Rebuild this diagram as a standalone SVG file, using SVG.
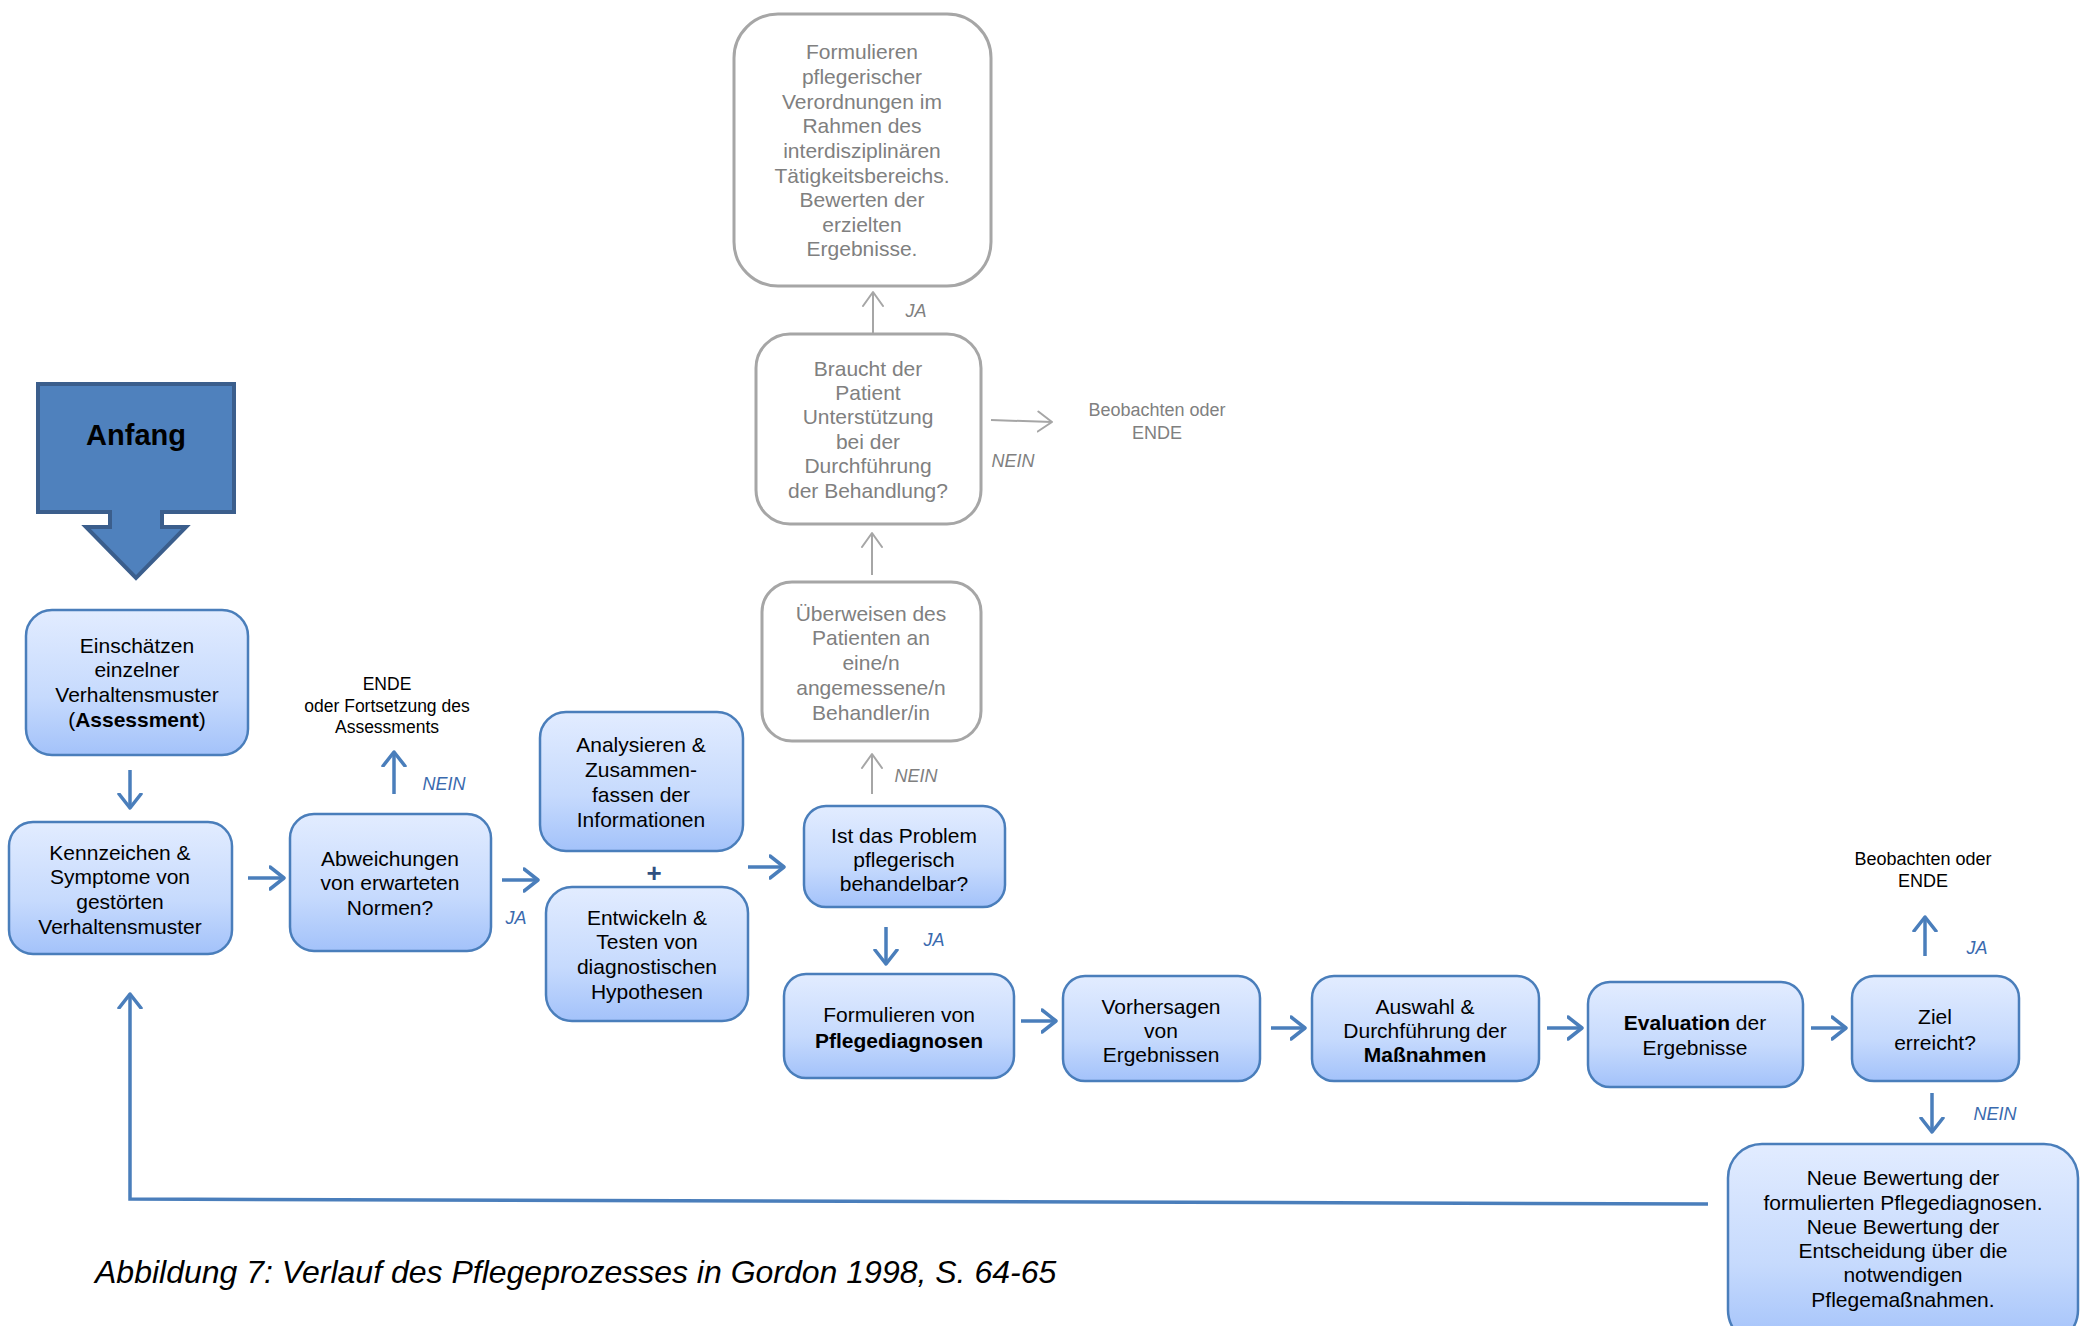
<svg xmlns="http://www.w3.org/2000/svg" width="2080" height="1326" viewBox="0 0 2080 1326">
<defs>
<linearGradient id="g" x1="0" y1="0" x2="0" y2="1">
<stop offset="0" stop-color="#e2ecff"/>
<stop offset="0.6" stop-color="#c6dafd"/>
<stop offset="1" stop-color="#a3c2fa"/>
</linearGradient>
<marker id="ab" markerUnits="userSpaceOnUse" markerWidth="30" markerHeight="30" refX="15" refY="12" orient="auto" viewBox="0 0 30 24">
<path d="M1,1 L15,12 L1,23" fill="none" stroke="#4a7ebb" stroke-width="3.5" stroke-linecap="round" stroke-linejoin="round"/>
</marker>
<marker id="ag" markerUnits="userSpaceOnUse" markerWidth="30" markerHeight="30" refX="15" refY="12" orient="auto" viewBox="0 0 30 24">
<path d="M1,2 L15,12 L1,22" fill="none" stroke="#a6a6a6" stroke-width="2" stroke-linecap="round" stroke-linejoin="round"/>
</marker>
</defs>
<style>
text{font-family:"Liberation Sans",Arial,sans-serif;}
.b{fill:url(#g);stroke:#4a7ebb;stroke-width:2.5;}
.gr{fill:#ffffff;stroke:#a6a6a6;stroke-width:3;}
.t{font-size:21px;fill:#000;text-anchor:middle;}
.tg{font-size:21px;fill:#808080;text-anchor:middle;}
.lb{font-size:18px;font-style:italic;fill:#3a6aae;text-anchor:middle;}
.lg{font-size:18px;font-style:italic;fill:#808080;text-anchor:middle;}
.s{font-size:17.5px;fill:#000;text-anchor:middle;}
.sg{font-size:18px;fill:#808080;text-anchor:middle;}
.cb{fill:none;stroke:#4a7ebb;stroke-width:3.5;marker-end:url(#ab);}
.cg{fill:none;stroke:#a6a6a6;stroke-width:2;marker-end:url(#ag);}
</style>
<rect width="2080" height="1326" fill="#ffffff"/>

<g id="anfang">
<polygon points="38,384 234,384 234,512 162,512 162,527 186,527 136,578 86,527 110,527 110,512 38,512" fill="#4f81bd" stroke="#3b5e8c" stroke-width="4" stroke-linejoin="miter"/>
<text x="136" y="445" style="font-size:29px;font-weight:bold;text-anchor:middle;fill:#000">Anfang</text>
</g>

<g id="einschaetzen">
<rect class="b" x="26" y="610" width="222" height="145" rx="26"/>
<text class="t"><tspan x="137" y="653">Einschätzen</tspan><tspan x="137" y="677">einzelner</tspan><tspan x="137" y="702">Verhaltensmuster</tspan><tspan x="137" y="727">(<tspan font-weight="bold">Assessment</tspan>)</tspan></text>
</g>

<g id="kennzeichen">
<rect class="b" x="9" y="822" width="223" height="132" rx="24"/>
<text class="t"><tspan x="120" y="860">Kennzeichen &amp;</tspan><tspan x="120" y="884">Symptome von</tspan><tspan x="120" y="909">gestörten</tspan><tspan x="120" y="934">Verhaltensmuster</tspan></text>
</g>

<g id="abweichungen">
<rect class="b" x="290" y="814" width="201" height="137" rx="24"/>
<text class="t"><tspan x="390" y="866">Abweichungen</tspan><tspan x="390" y="890">von erwarteten</tspan><tspan x="390" y="915">Normen?</tspan></text>
</g>

<g id="ende1">
<text class="s"><tspan x="387" y="690">ENDE</tspan><tspan x="387" y="712">oder Fortsetzung des</tspan><tspan x="387" y="733">Assessments</tspan></text>
</g>

<g id="analysieren">
<rect class="b" x="540" y="712" width="203" height="139" rx="26"/>
<text class="t"><tspan x="641" y="752">Analysieren &amp;</tspan><tspan x="641" y="777">Zusammen-</tspan><tspan x="641" y="802">fassen der</tspan><tspan x="641" y="827">Informationen</tspan></text>
</g>

<g id="plus">
<text x="654" y="882" style="font-size:26px;font-weight:bold;fill:#2f4f80;text-anchor:middle">+</text>
</g>

<g id="entwickeln">
<rect class="b" x="546" y="887" width="202" height="134" rx="26"/>
<text class="t"><tspan x="647" y="925">Entwickeln &amp;</tspan><tspan x="647" y="949">Testen von</tspan><tspan x="647" y="974">diagnostischen</tspan><tspan x="647" y="999">Hypothesen</tspan></text>
</g>

<g id="problem">
<rect class="b" x="804" y="806" width="201" height="101" rx="22"/>
<text class="t"><tspan x="904" y="843">Ist das Problem</tspan><tspan x="904" y="867">pflegerisch</tspan><tspan x="904" y="891">behandelbar?</tspan></text>
</g>

<g id="ueberweisen">
<rect class="gr" x="762" y="582" width="219" height="159" rx="30"/>
<text class="tg"><tspan x="871" y="621">Überweisen des</tspan><tspan x="871" y="645">Patienten an</tspan><tspan x="871" y="670">eine/n</tspan><tspan x="871" y="695">angemessene/n</tspan><tspan x="871" y="720">Behandler/in</tspan></text>
</g>

<g id="braucht">
<rect class="gr" x="756" y="334" width="225" height="190" rx="34"/>
<text class="tg"><tspan x="868" y="376">Braucht der</tspan><tspan x="868" y="400">Patient</tspan><tspan x="868" y="424">Unterstützung</tspan><tspan x="868" y="449">bei der</tspan><tspan x="868" y="473">Durchführung</tspan><tspan x="868" y="498">der Behandlung?</tspan></text>
</g>

<g id="beobachten1">
<text class="sg"><tspan x="1157" y="416">Beobachten oder</tspan><tspan x="1157" y="439">ENDE</tspan></text>
</g>

<g id="verordnungen">
<rect class="gr" x="734" y="14" width="257" height="272" rx="44"/>
<text class="tg"><tspan x="862" y="59">Formulieren</tspan><tspan x="862" y="84">pflegerischer</tspan><tspan x="862" y="109">Verordnungen im</tspan><tspan x="862" y="133">Rahmen des</tspan><tspan x="862" y="158">interdisziplinären</tspan><tspan x="862" y="183">Tätigkeitsbereichs.</tspan><tspan x="862" y="207">Bewerten der</tspan><tspan x="862" y="232">erzielten</tspan><tspan x="862" y="256">Ergebnisse.</tspan></text>
</g>

<g id="pflegediagnosen">
<rect class="b" x="784" y="974" width="230" height="104" rx="22"/>
<text class="t"><tspan x="899" y="1022">Formulieren von</tspan><tspan x="899" y="1048" font-weight="bold">Pflegediagnosen</tspan></text>
</g>

<g id="vorhersagen">
<rect class="b" x="1063" y="976" width="197" height="105" rx="22"/>
<text class="t"><tspan x="1161" y="1014">Vorhersagen</tspan><tspan x="1161" y="1038">von</tspan><tspan x="1161" y="1062">Ergebnissen</tspan></text>
</g>

<g id="auswahl">
<rect class="b" x="1312" y="976" width="227" height="105" rx="22"/>
<text class="t"><tspan x="1425" y="1014">Auswahl &amp;</tspan><tspan x="1425" y="1038">Durchführung der</tspan><tspan x="1425" y="1062" font-weight="bold">Maßnahmen</tspan></text>
</g>

<g id="evaluation">
<rect class="b" x="1588" y="982" width="215" height="105" rx="22"/>
<text class="t"><tspan x="1695" y="1030"><tspan font-weight="bold">Evaluation</tspan> der</tspan><tspan x="1695" y="1055">Ergebnisse</tspan></text>
</g>

<g id="ziel">
<rect class="b" x="1852" y="976" width="167" height="105" rx="22"/>
<text class="t"><tspan x="1935" y="1024">Ziel</tspan><tspan x="1935" y="1050">erreicht?</tspan></text>
</g>

<g id="beobachten2">
<text class="sg" style="fill:#000"><tspan x="1923" y="865">Beobachten oder</tspan><tspan x="1923" y="887">ENDE</tspan></text>
</g>

<g id="neue">
<rect class="b" x="1728" y="1144" width="350" height="200" rx="34"/>
<text class="t"><tspan x="1903" y="1185">Neue Bewertung der</tspan><tspan x="1903" y="1210">formulierten Pflegediagnosen.</tspan><tspan x="1903" y="1234">Neue Bewertung der</tspan><tspan x="1903" y="1258">Entscheidung über die</tspan><tspan x="1903" y="1282">notwendigen</tspan><tspan x="1903" y="1307">Pflegemaßnahmen.</tspan></text>
</g>

<g id="connectors">
<line class="cb" x1="130" y1="770" x2="130" y2="808"/>
<line class="cb" x1="248" y1="878" x2="284" y2="878"/>
<line class="cb" x1="394" y1="794" x2="394" y2="752"/>
<line class="cb" x1="502" y1="880" x2="538" y2="880"/>
<line class="cb" x1="748" y1="867" x2="784" y2="867"/>
<line class="cg" x1="872" y1="794" x2="872" y2="754"/>
<line class="cg" x1="872" y1="575" x2="872" y2="533"/>
<line class="cg" x1="873" y1="334" x2="873" y2="292"/>
<line class="cg" x1="991" y1="420" x2="1052" y2="422"/>
<line class="cb" x1="886" y1="927" x2="886" y2="964"/>
<line class="cb" x1="1021" y1="1021" x2="1056" y2="1021"/>
<line class="cb" x1="1271" y1="1028" x2="1305" y2="1028"/>
<line class="cb" x1="1547" y1="1028" x2="1582" y2="1028"/>
<line class="cb" x1="1811" y1="1028" x2="1846" y2="1028"/>
<line class="cb" x1="1925" y1="956" x2="1925" y2="917"/>
<line class="cb" x1="1932" y1="1093" x2="1932" y2="1132"/>
<polyline class="cb" points="1708,1204 130,1199 130,994"/>
<text class="lb" x="444" y="790">NEIN</text>
<text class="lb" x="516" y="924">JA</text>
<text class="lb" x="934" y="946">JA</text>
<text class="lg" x="916" y="782">NEIN</text>
<text class="lg" x="916" y="317">JA</text>
<text class="lg" x="1013" y="467">NEIN</text>
<text class="lb" x="1977" y="954">JA</text>
<text class="lb" x="1995" y="1120">NEIN</text>
</g>

<text x="95" y="1283" style="font-size:32px;font-style:italic;fill:#000">Abbildung 7: Verlauf des Pflegeprozesses in Gordon 1998, S. 64-65</text>
</svg>
